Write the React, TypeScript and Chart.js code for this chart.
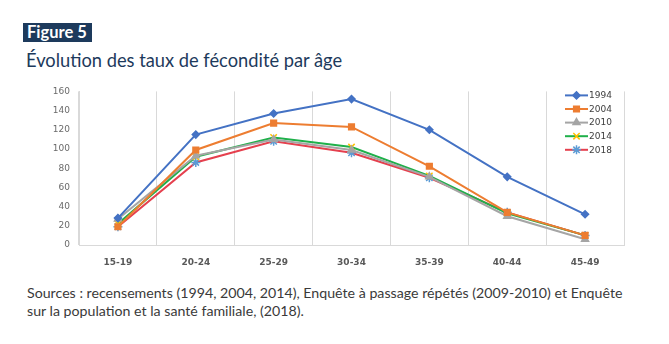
import React, { useEffect, useRef } from "react";
import { Chart, registerables } from "chart.js";
import { drawPoint } from "chart.js/helpers";

Chart.register(...registerables);

const categories = ["15-19", "20-24", "25-29", "30-34", "35-39", "40-44", "45-49"];
const yTicks = [0, 20, 40, 60, 80, 100, 120, 140, 160];
const seriesNames = ["1994", "2004", "2010", "2014", "2018"];
const s1994 = [28, 115, 137, 152, 120, 71, 32];
const s2004 = [19, 99, 127, 123, 82, 34, 10];
const s2010 = [27, 93, 110, 99, 71, 30, 6];
const s2014 = [22, 92, 112, 102, 72, 33, 10];
const s2018 = [19, 86, 108, 96, 70, 34, 10];

const lineColors = ["#4472c4", "#ed7d31", "#a5a5a5", "#1fb04a", "#e5404e"];
const markerColors = ["#4472c4", "#ed7d31", "#a5a5a5", "#ffc000", "#5b9bd5"];
const markerStyles = ["rectRot", "rect", "triangle", "crossRot", "star"];
const markerRadius = [3.5, 4, 4, 4.5, 4.5];

const legendPlugin = {
  id: "insideLegend",
  afterDraw(chart: any) {
    const { ctx, chartArea } = chart;
    const x0 = chartArea.right - 59;
    const x1 = chartArea.right - 36;
    const tx = chartArea.right - 35;
    chart.data.datasets.forEach((ds: any, i: number) => {
      const y = chartArea.top + 4 + i * 13.6;
      ctx.save();
      ctx.strokeStyle = ds.borderColor;
      ctx.lineWidth = 2;
      ctx.beginPath();
      ctx.moveTo(x0, y);
      ctx.lineTo(x1, y);
      ctx.stroke();
      ctx.fillStyle = ds.pointBackgroundColor;
      ctx.strokeStyle = ds.pointBorderColor;
      ctx.lineWidth = 1.5;
      drawPoint(ctx, { pointStyle: ds.pointStyle, radius: ds.pointRadius, rotation: 0, borderWidth: 1.5 }, (x0 + x1) / 2, y);
      ctx.fillStyle = "#404040";
      ctx.font = "9px 'DejaVu Sans'";
      ctx.textBaseline = "middle";
      ctx.textAlign = "left";
      ctx.fillText(ds.label, tx, y + 0.5);
      ctx.restore();
    });
  },
};

function LineChart() {
  const ref = useRef<HTMLCanvasElement | null>(null);
  useEffect(() => {
    if (!ref.current) return;
    const all = [s1994, s2004, s2010, s2014, s2018];
    const chart = new Chart(ref.current, {
      type: "line",
      data: {
        labels: categories,
        datasets: all.map((d, i) => ({
          label: seriesNames[i],
          data: d,
          borderColor: lineColors[i],
          backgroundColor: markerColors[i],
          pointBackgroundColor: markerColors[i],
          pointBorderColor: markerColors[i],
          pointStyle: markerStyles[i] as any,
          pointRadius: markerRadius[i],
          pointBorderWidth: 1.5,
          borderWidth: 2,
          tension: 0,
        })),
      },
      options: {
        responsive: false,
        animation: false,
        layout: { padding: { top: 5, right: 16, left: 0, bottom: 0 } },
        plugins: { legend: { display: false }, tooltip: { enabled: false } },
        scales: {
          x: {
            offset: true,
            grid: {
              offset: true,
              color: (c: any) => (c.index === categories.length ? "rgba(0,0,0,0)" : "#d9d9d9"),
              drawTicks: false,
            },
            border: { display: true, color: "#d9d9d9" },
            ticks: {
              color: "#595959",
              font: { family: "'DejaVu Sans'", size: 9, weight: "bold" },
              padding: 12,
            },
            afterFit: (s: any) => {
              s.height = 22;
            },
          },
          y: {
            min: 0,
            max: 160,
            afterBuildTicks: (s: any) => {
              s.ticks = yTicks.map((v) => ({ value: v }));
            },
            grid: { display: false },
            border: { display: true, color: "#d9d9d9" },
            ticks: {
              color: "#6a6a6a",
              font: { family: "'DejaVu Sans'", size: 9 },
              padding: 1,
            },
            afterFit: (s: any) => {
              s.width = 49;
            },
          },
        },
      },
      plugins: [legendPlugin],
    });
    return () => chart.destroy();
  }, []);
  return <canvas ref={ref} width={610} height={182} style={{ position: "absolute", left: 30, top: 85, width: 610, height: 182 }} />;
}

export default function App() {
  return (
    <div style={{ position: "fixed", left: 0, top: 0, width: 669, height: 344, background: "#ffffff", overflow: "hidden" }}>
      <div
        style={{
          position: "absolute",
          left: 23,
          top: 23,
          width: 69,
          height: 19,
          background: "#1d3a5c",
          color: "#ffffff",
          fontFamily: "Lato, sans-serif",
          fontWeight: 700,
          fontSize: 16.5,
          lineHeight: "19px",
          paddingLeft: 4,
          boxSizing: "border-box",
          whiteSpace: "nowrap",
        }}
      >
        Figure 5
      </div>
      <div
        style={{
          position: "absolute",
          left: 26,
          top: 49,
          color: "#1d3a5c",
          fontFamily: "Lato, sans-serif",
          fontSize: 18.3,
          lineHeight: "22px",
          whiteSpace: "nowrap",
        }}
      >
        Évolution des taux de fécondité par âge
      </div>
      <LineChart />
      <div
        style={{
          position: "absolute",
          left: 27,
          top: 284,
          width: 660,
          color: "#3a3a3a",
          fontFamily: "Lato, sans-serif",
          fontSize: 14.2,
          lineHeight: "18px",
          whiteSpace: "nowrap",
        }}
      >
        Sources : recensements (1994, 2004, 2014), Enquête à passage répétés (2009-2010) et Enquête
        <br />
        sur la population et la santé familiale, (2018).
      </div>
    </div>
  );
}
